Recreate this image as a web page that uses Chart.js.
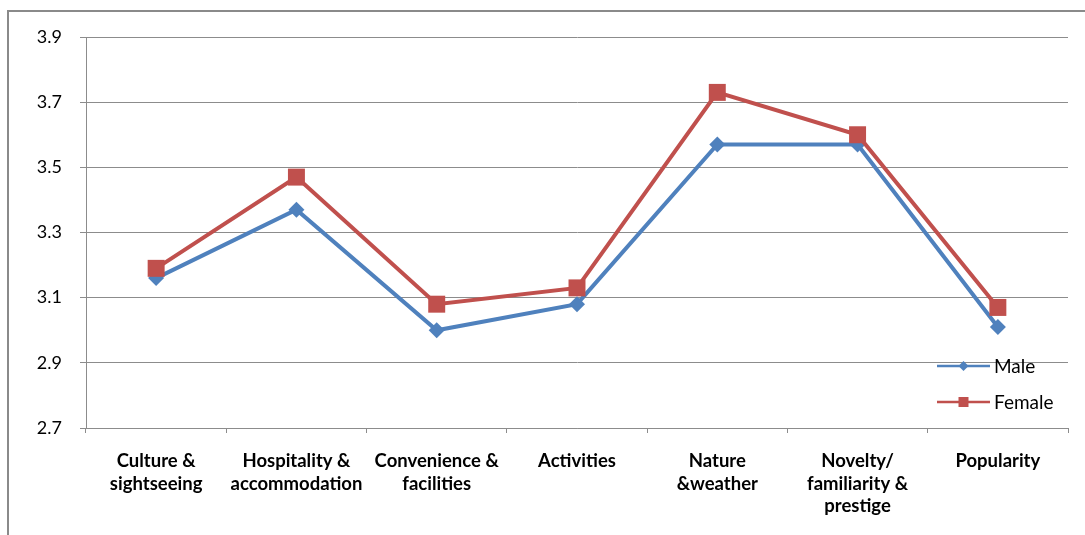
<!DOCTYPE html>
<html>
<head>
<meta charset="utf-8">
<script src="https://cdn.jsdelivr.net/npm/chart.js@4.4.1/dist/chart.umd.min.js"></script>
<style>
  html, body { margin: 0; padding: 0; background: #fff; overflow: hidden; }
  #wrap { position: relative; width: 1085px; height: 535px; }
  #frame { position: absolute; left: 7px; top: 10px; width: 1200px; height: 700px;
           border-left: 2px solid #8a8a8a; border-top: 2px solid #8a8a8a; pointer-events: none; }
  canvas { position: absolute; left: 0; top: 0; }
</style>
</head>
<body>
<div id="wrap">
  <div id="frame"></div>
  <canvas id="c" width="1085" height="535"></canvas>
</div>
<script>
const categories = [
  ["Culture &", "sightseeing"],
  ["Hospitality &", "accommodation"],
  ["Convenience &", "facilities"],
  ["Activities"],
  ["Nature", "&weather"],
  ["Novelty/", "familiarity &", "prestige"],
  ["Popularity"]
];
const maleValues   = [3.16, 3.37, 3.00, 3.08, 3.57, 3.57, 3.01];
const femaleValues = [3.19, 3.47, 3.08, 3.13, 3.73, 3.60, 3.07];
const yTicks = [2.7, 2.9, 3.1, 3.3, 3.5, 3.7, 3.9];
const seriesNames = ["Male", "Female"];

const BLUE = "#4F81BD";
const RED = "#C0504D";
const GRID = "#8c8c8c";

const legendPlugin = {
  id: "insideLegend",
  afterDraw(chart) {
    const ctx = chart.ctx;
    const items = [
      { label: seriesNames[0], color: BLUE, shape: "diamond", y: 366 },
      { label: seriesNames[1], color: RED, shape: "square", y: 402 }
    ];
    ctx.save();
    items.forEach(it => {
      const x0 = 937, x1 = 990, cx = (x0 + x1) / 2;
      ctx.strokeStyle = it.color;
      ctx.lineWidth = 2.5;
      ctx.beginPath();
      ctx.moveTo(x0, it.y);
      ctx.lineTo(x1, it.y);
      ctx.stroke();
      ctx.fillStyle = it.color;
      ctx.beginPath();
      if (it.shape === "diamond") {
        const r = 5;
        ctx.moveTo(cx, it.y - r);
        ctx.lineTo(cx + r, it.y);
        ctx.lineTo(cx, it.y + r);
        ctx.lineTo(cx - r, it.y);
        ctx.closePath();
      } else {
        ctx.rect(cx - 5, it.y - 5, 10, 10);
      }
      ctx.fill();
      ctx.fillStyle = "#000";
      ctx.font = "19px Lato";
      ctx.textAlign = "left";
      ctx.textBaseline = "middle";
      ctx.fillText(it.label, 994, it.y + 1);
    });
    ctx.restore();
  }
};

new Chart(document.getElementById("c"), {
  type: "line",
  data: {
    labels: categories,
    datasets: [
      {
        label: seriesNames[0],
        data: maleValues,
        borderColor: BLUE,
        backgroundColor: BLUE,
        borderWidth: 4,
        pointStyle: "rectRot",
        pointRadius: 8,
        pointHoverRadius: 8,
        pointBorderWidth: 0,
        tension: 0,
        order: 2
      },
      {
        label: seriesNames[1],
        data: femaleValues,
        borderColor: RED,
        backgroundColor: RED,
        borderWidth: 4,
        pointStyle: "rect",
        pointRadius: 12,
        pointHoverRadius: 12,
        pointBorderWidth: 0,
        tension: 0,
        order: 1
      }
    ]
  },
  options: {
    responsive: false,
    animation: false,
    devicePixelRatio: 1,
    layout: { padding: { top: 37, right: 17, left: 0, bottom: 0 } },
    plugins: {
      legend: { display: false },
      tooltip: { enabled: false }
    },
    scales: {
      x: {
        offset: true,
        grid: {
          offset: true,
          drawOnChartArea: false,
          drawTicks: true,
          tickLength: 5,
          color: GRID
        },
        border: { color: GRID, width: 1 },
        ticks: {
          color: "#000",
          font: { family: "Lato", size: 18.5, weight: "bold", lineHeight: 1.22 },
          padding: 17,
          maxRotation: 0,
          autoSkip: false
        },
        afterFit(scale) { scale.height = 107; }
      },
      y: {
        min: 2.7,
        max: 3.9,
        afterBuildTicks(scale) { scale.ticks = yTicks.map(v => ({ value: v })); },
        grid: {
          color: GRID,
          tickLength: 6,
          drawTicks: true
        },
        border: { color: GRID, width: 1 },
        ticks: {
          color: "#000",
          font: { family: "Lato", size: 18 },
          padding: 18,
          callback: v => Number(v).toFixed(1)
        },
        afterFit(scale) { scale.width = 86; }
      }
    }
  },
  plugins: [legendPlugin]
});
</script>
</body>
</html>
